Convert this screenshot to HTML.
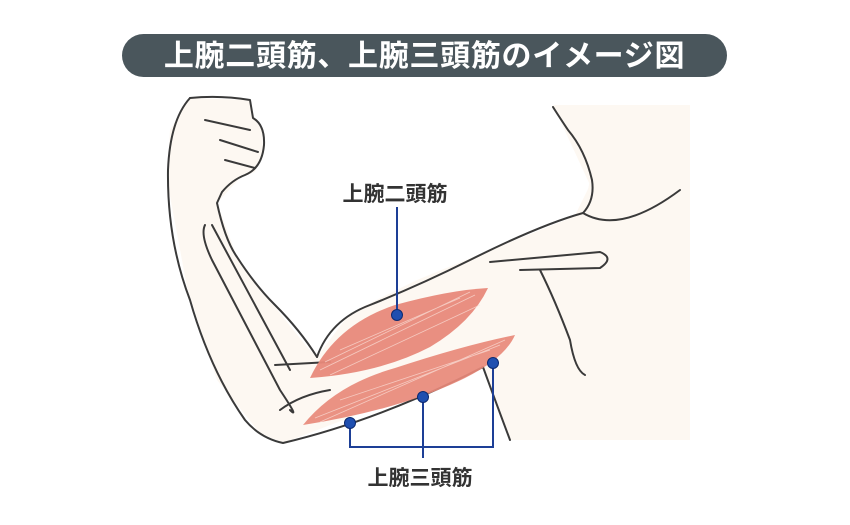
<!DOCTYPE html>
<html><head><meta charset="utf-8"><style>
html,body{margin:0;padding:0;background:#fff;width:850px;height:525px;overflow:hidden}
.t{font-family:"Liberation Sans","Noto Sans CJK JP",sans-serif;font-weight:bold}
</style></head><body>
<svg width="850" height="525" viewBox="0 0 850 525" xmlns="http://www.w3.org/2000/svg">
<rect x="122" y="34" width="605" height="43" rx="21.5" fill="#4a565c"/>
<text class="t" x="424.5" y="66" text-anchor="middle" font-size="30" letter-spacing="0.7" fill="#fff">上腕二頭筋、上腕三頭筋のイメージ図</text>
<path d="M553,105 L690,105 L690,440 L510,440 L500,367 L590,185 Z" fill="#fdf8f2"/>
<path d="M190,98 L250,100 L255,120 L262,130 L263,150 L255,172 L240,178 L217,203 L237,257 L267,297 L307,347 L317,357 L350,313 L417,280 L483,253 L583,213 L590,180 L570,133 L553,107 L690,105 L690,440 L510,440 L483,367 L283,443 L260,433 L217,380 L187,287 L167,180 L170,130 Z" fill="#fdf8f2"/>
<g fill="none" stroke="#3a3a3a" stroke-width="2" stroke-linecap="round" stroke-linejoin="round">
<path d="M190,98 Q220,95 250,100 L253,118 Q265,125 264,145 Q262,168 245,175 Q232,180 222,192 L217,203 Q225,240 237,257 Q255,285 275,305 Q300,330 317,357"/>
<path d="M190,98 Q170,120 168,170 Q167,240 190,300 Q210,370 245,420 Q260,438 283,443 Q380,420 483,367"/>
<path d="M205,120 L250,130 M220,140 L258,152 M225,160 L255,168"/>
<path d="M317,357 Q330,320 370,305 Q420,285 470,260 Q540,225 583,213 Q595,200 592,180 Q585,150 568,130 Q558,115 553,107"/>
<path d="M583,213 Q620,235 680,190"/>
<path d="M483,367 Q495,400 510,440"/>
<path d="M490,262 L600,252 Q615,258 600,268 L520,270"/>
<path d="M540,270 Q555,300 570,340 Q575,370 585,375"/>
<path d="M205,225 Q200,235 212,260 L280,390 Q300,420 290,410 M212,225 L290,370"/>
<path d="M275,365 L330,362 M280,410 Q300,395 330,390"/>
</g>
<path d="M303,425 Q335,385 395,368 Q465,345 515,335 Q505,358 465,378 Q400,410 303,425 Z" fill="#e8897a" opacity="0.92"/>
<path d="M310,378 Q335,325 395,305 Q450,290 488,288 Q472,322 430,347 Q380,373 310,378 Z" fill="#e8897a" opacity="0.95"/>
<g stroke="#fbe3dc" stroke-width="0.8" fill="none" opacity="0.7">
<path d="M320,370 L475,295 M325,362 L470,292 M330,375 L480,305 M340,350 L460,298"/>
<path d="M315,418 L500,345 M320,422 L505,340 M340,400 L490,350"/>
</g>
<g stroke="#1d3f96" stroke-width="2" fill="none">
<path d="M397,207 L397,315"/>
<path d="M350,423 L350,447 L493,447 L493,363"/>
<path d="M423,397 L423,458"/>
</g>
<g fill="#1f4fb0" stroke="#0d2a70" stroke-width="1">
<circle cx="397" cy="315" r="5.5"/><circle cx="493" cy="363" r="5.5"/>
<circle cx="423" cy="397" r="5.5"/><circle cx="350" cy="423" r="5.5"/>
</g>
<text class="t" x="395" y="201" text-anchor="middle" font-size="21" fill="#333">上腕二頭筋</text>
<text class="t" x="420" y="485" text-anchor="middle" font-size="21" fill="#333">上腕三頭筋</text>
</svg>
</body></html>
